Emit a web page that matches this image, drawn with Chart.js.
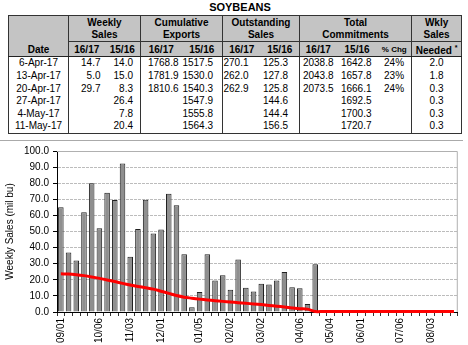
<!DOCTYPE html>
<html><head><meta charset="utf-8">
<script src="https://cdn.jsdelivr.net/npm/chart.js@4"></script>
<style>
html,body{margin:0;padding:0;background:#fff;width:468px;height:345px;overflow:hidden;font-family:"Liberation Sans",Arial,sans-serif;color:#000;}
#title{position:absolute;left:0;top:0;width:480px;text-align:center;font-weight:bold;font-size:11px;line-height:14px;}
#tbl{position:absolute;left:8px;top:15px;border-collapse:collapse;table-layout:fixed;font-size:10px;border:1px solid #333;width:453px;}
#tbl td,#tbl th{padding:0;white-space:nowrap;overflow:visible;}
#tbl thead th{background:#c4c4c4;font-weight:bold;height:12px;line-height:12px;text-align:center;}
#tbl thead tr.top th{padding-top:1px;}
#tbl thead tr.sub th{border-top:1px solid #333;border-bottom:1px solid #222;line-height:11px;height:11px;}
#tbl thead th.nb{border-top:none;}
#tbl th.date{vertical-align:bottom;border-bottom:1px solid #222;}
#tbl .g{border-left:1px solid #333;}
#tbl .pc{font-size:8px;}
#tbl tbody td{height:12.6px;line-height:12.6px;text-align:right;}
#tbl tbody td:nth-child(1){text-align:center;}
#tbl tbody td:nth-child(2){padding-right:4px;}
#tbl tbody td:nth-child(3){padding-right:7px;}
#tbl tbody td:nth-child(4){padding-right:3px;}
#tbl tbody td:nth-child(5){padding-right:9px;}
#tbl tbody td:nth-child(6){padding-right:12px;}
#tbl tbody td:nth-child(7){padding-right:11px;}
#tbl tbody td:nth-child(8){padding-right:3px;}
#tbl tbody td:nth-child(9){padding-right:6px;}
#tbl tbody td:nth-child(10){padding-right:7px;}
#tbl tbody td:nth-child(11){text-align:center;}
#sep{position:absolute;left:0;top:140px;width:463px;height:0;border-top:1px solid #aaa;}
#wrap{position:absolute;left:0;top:141px;width:468px;height:204px;}
</style>
</head>
<body>
<div id="title">SOYBEANS</div>
<table id="tbl">
<colgroup>
<col style="width:60px"><col style="width:36px"><col style="width:36px"><col style="width:41px"><col style="width:41px"><col style="width:38px"><col style="width:39px"><col style="width:37px"><col style="width:41px"><col style="width:34px"><col style="width:50px">
</colgroup>
<thead>
<tr class="top"><th class="date" rowspan="3">Date</th><th class="g" colspan="2">Weekly</th><th class="g" colspan="2">Cumulative</th><th class="g" colspan="2">Outstanding</th><th class="g" colspan="3">Total</th><th class="g">Wkly</th></tr>
<tr><th class="g" colspan="2">Sales</th><th class="g" colspan="2">Exports</th><th class="g" colspan="2">Sales</th><th class="g" colspan="3">Commitments</th><th class="g">Sales</th></tr>
<tr class="sub"><th class="g">16/17</th><th>15/16</th><th class="g">16/17</th><th>15/16</th><th class="g">16/17</th><th>15/16</th><th class="g">16/17</th><th>15/16</th><th class="pc">% Chg</th><th class="g nb">Needed <sup style="font-size:7px">*</sup></th></tr>
</thead>
<tbody id="tb"></tbody>
</table>
<div id="sep"></div>
<div id="wrap"><canvas id="c" width="468" height="204"></canvas></div>
<script>
// ---- table data ----
const tableDates = ['6-Apr-17','13-Apr-17','20-Apr-17','27-Apr-17','4-May-17','11-May-17'];
const weekly1617 = [14.7, 5.0, 29.7, null, null, null];
const weekly1516 = [14.0, 15.0, 8.3, 26.4, 7.8, 20.4];
const cum1617 = [1768.8, 1781.9, 1810.6, null, null, null];
const cum1516 = [1517.5, 1530.0, 1540.3, 1547.9, 1555.8, 1564.3];
const out1617 = [270.1, 262.0, 262.9, null, null, null];
const out1516 = [125.3, 127.8, 125.8, 144.6, 144.4, 156.5];
const tot1617 = [2038.8, 2043.8, 2073.5, null, null, null];
const tot1516 = [1642.8, 1657.8, 1666.1, 1692.5, 1700.3, 1720.7];
const pctChg = [24, 23, 24, null, null, null];
const wklyNeeded = [2.0, 1.8, 0.3, 0.3, 0.3, 0.3];

// ---- chart data ----
const weeks = ['09/01','09/08','09/15','09/22','09/29','10/06','10/13','10/20','10/27','11/03','11/10','11/17','11/24',
  '12/01','12/08','12/15','12/22','12/29','01/05','01/12','01/19','01/26','02/02','02/09','02/16','02/23',
  '03/02','03/09','03/16','03/23','03/30','04/06','04/13','04/20','04/27','05/04','05/11','05/18','05/25',
  '06/01','06/08','06/15','06/22','06/29','07/06','07/13','07/20','07/27','08/03','08/10','08/17','08/24'];
const weeklySales = [65.0, 37.0, 32.0, 62.0, 80.0, 52.0, 74.0, 69.5, 92.3, 34.3, 51.5, 69.7, 48.8,
  51.2, 73.5, 66.3, 35.8, 3.0, 12.5, 35.8, 19.5, 22.8, 13.8, 32.6, 15.0, 12.8,
  17.6, 17.1, 19.5, 24.9, 15.3, 14.7, 5.0, 29.7];
const salesNeeded = [23.7, 23.6, 23.2, 22.6, 21.8, 20.9, 19.9, 18.9, 17.8, 16.8, 15.9, 15.1, 14.2,
  12.9, 11.6, 10.2, 9.2, 8.6, 8.0, 7.5, 7.0, 6.6, 6.2, 5.8, 5.4, 5.0,
  4.6, 4.1, 3.6, 3.1, 2.5, 2.0, 1.8, 0.3, 0.3, 0.3, 0.3, 0.3, 0.3,
  0.3, 0.3, 0.3, 0.3, 0.3, 0.3, 0.3, 0.3, 0.3, 0.3, 0.3, 0.3, 0.3];
const shownTicks = ['09/01','10/06','11/03','12/01','01/05','02/02','03/02','04/06','05/04','06/01','07/06','08/03'];
const yTicks = [0,10,20,30,40,50,60,70,80,90,100];

// build table body
const fmt = v => v === null ? '' : v.toFixed(1);
const tb = document.getElementById('tb');
tableDates.forEach((d, i) => {
  const tr = document.createElement('tr');
  const cells = [d, fmt(weekly1617[i]), fmt(weekly1516[i]), fmt(cum1617[i]), fmt(cum1516[i]),
    fmt(out1617[i]), fmt(out1516[i]), fmt(tot1617[i]), fmt(tot1516[i]),
    pctChg[i] === null ? '' : pctChg[i] + '%', fmt(wklyNeeded[i])];
  const grp = [1, 3, 5, 7, 10];
  cells.forEach((c, j) => {
    const td = document.createElement('td');
    td.textContent = c;
    if (grp.includes(j)) td.className = 'g';
    tr.appendChild(td);
  });
  tb.appendChild(tr);
});

const FONT = '"Liberation Sans", Arial, sans-serif';
const plotBorder = {
  id: 'plotBorder',
  beforeDatasetsDraw(chart) {
    const a = chart.chartArea, ctx = chart.ctx;
    ctx.save();
    ctx.strokeStyle = '#b0b0b0';
    ctx.lineWidth = 1;
    ctx.beginPath();
    ctx.moveTo(a.left, a.top + 0.5);
    ctx.lineTo(a.right - 0.5, a.top + 0.5);
    ctx.lineTo(a.right - 0.5, a.bottom);
    ctx.stroke();
    ctx.restore();
  }
};

new Chart(document.getElementById('c'), {
  type: 'bar',
  data: {
    labels: weeks,
    datasets: [
      { type: 'line', label: 'Weekly Sales Needed', data: salesNeeded, borderColor: '#ff0000', borderWidth: 3,
        pointRadius: 0, pointHoverRadius: 0, tension: 0.3, clip: false, order: 0 },
      { type: 'bar', label: 'Weekly Sales', data: weeklySales, backgroundColor: '#8f8f8f', borderColor: '#202020',
        hoverBackgroundColor: '#8f8f8f', hoverBorderColor: '#202020', inflateAmount: 0,
        borderWidth: 1, barPercentage: 0.72, categoryPercentage: 1.0, order: 1 }
    ]
  },
  options: {
    responsive: false, animation: false, maintainAspectRatio: false,
    events: [],
    layout: { padding: { top: 10, right: 6, left: 0, bottom: 0 } },
    plugins: { legend: { display: false }, tooltip: { enabled: false } },
    scales: {
      x: {
        offset: true,
        grid: { display: true, drawOnChartArea: false, tickLength: 4, color: '#333', offset: true },
        border: { color: '#000' },
        ticks: { autoSkip: false, maxRotation: 90, minRotation: 90, padding: 2, color: '#000',
          font: { size: 10, family: FONT },
          callback: function (v, i) { const l = weeks[i]; return shownTicks.includes(l) ? l : ''; } },
        afterFit(s) { s.height = 33; }
      },
      y: {
        min: 0, max: 100,
        afterBuildTicks(s) { s.ticks = yTicks.map(v => ({ value: v })); },
        ticks: { callback: v => Number(v).toFixed(1), color: '#000', font: { size: 10, family: FONT }, padding: 4 },
        grid: { color: '#bcbcbc', tickLength: 4, tickColor: '#000' },
        border: { color: '#000', dash: [3, 1] },
        title: { display: true, text: 'Weekly Sales (mil bu)', color: '#000', font: { size: 10, family: FONT },
          padding: { top: 4, bottom: 4 } },
        afterFit(s) { s.width = 57; }
      }
    }
  },
  plugins: [plotBorder]
});
</script>
</body></html>
